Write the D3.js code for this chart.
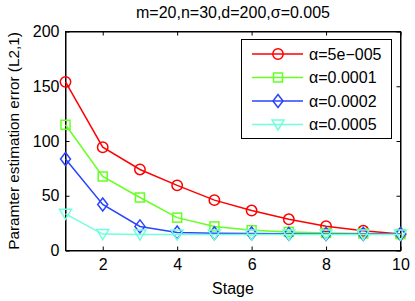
<!DOCTYPE html>
<html><head><meta charset="utf-8">
<script src="https://cdn.jsdelivr.net/npm/d3@7"></script>
<style>body{margin:0;background:#fff}svg{display:block}text{font-family:"Liberation Sans",Arial,sans-serif}</style>
</head><body><svg id="c" width="415" height="301"></svg>
<script>
const stages = [1,2,3,4,5,6,7,8,9,10];
const seriesNames = ["α=5e−005","α=0.0001","α=0.0002","α=0.0005"];
const red = [154,94.3,74,59.5,46,36.5,28.5,22.2,18,15];
const green = [114.8,67.6,48.4,30,22,18.5,17,16,15.5,15];
const blue = [83.5,42,22,16.5,15.8,15.5,15.2,15,15,15];
const cyan = [33.5,15,14.5,14.5,14.5,14.5,14.5,14.5,14.5,14.5];
const xTicks = [2,4,6,8,10];
const yTicks = [0,50,100,150,200];
const colors = ["#ff0000","#66ff22","#2a44ff","#70ffdd"];
const markers = ["circle","square","diamond","triangle"];
const data = [red, green, blue, cyan];
const FS = 16;

const svg = d3.select("#c");
const L=65.5, R=400.5, T=31.5, B=250.5;
const x = d3.scaleLinear().domain([1,10]).range([L,R]);
const y = d3.scaleLinear().domain([0,200]).range([B,T]);

svg.append("rect").attr("x",L).attr("y",T).attr("width",R-L).attr("height",B-T)
  .attr("fill","#fff").attr("stroke","#000").attr("stroke-width",1);

const ax = svg.append("g").attr("transform",`translate(0,${B})`)
  .call(d3.axisBottom(x).tickValues(xTicks).tickSizeInner(-4).tickSizeOuter(0).tickPadding(8));
const ay = svg.append("g").attr("transform",`translate(${L},0)`)
  .call(d3.axisLeft(y).tickValues(yTicks).tickSizeInner(-4).tickSizeOuter(0).tickPadding(6));
const axT = svg.append("g").attr("transform",`translate(0,${T})`)
  .call(d3.axisTop(x).tickValues(xTicks).tickSizeInner(-4).tickSizeOuter(0).tickFormat(""));
const ayR = svg.append("g").attr("transform",`translate(${R},0)`)
  .call(d3.axisRight(y).tickValues(yTicks).tickSizeInner(-4).tickSizeOuter(0).tickFormat(""));
[ax,ay,axT,ayR].forEach(g=>{g.select(".domain").attr("stroke","#000");g.selectAll("text").attr("font-size",FS).attr("fill","#000").style("font-family",'"Liberation Sans",Arial,sans-serif');});

function drawMarker(g, type, cx, cy){
  if(type==="circle") g.append("circle").attr("cx",cx).attr("cy",cy).attr("r",5.2);
  else if(type==="square") g.append("rect").attr("x",cx-4.5).attr("y",cy-4.5).attr("width",9).attr("height",9);
  else if(type==="diamond") g.append("path").attr("d",`M${cx},${cy-6.5}L${cx+5},${cy}L${cx},${cy+6.5}L${cx-5},${cy}Z`);
  else g.append("path").attr("d",`M${cx-6},${cy-4.5}L${cx+6},${cy-4.5}L${cx},${cy+5.5}Z`);
}

const line = d3.line().x((d,i)=>x(stages[i])).y(d=>y(d));
data.forEach((s,k)=>{
  const g = svg.append("g").attr("fill","none").attr("stroke",colors[k]).attr("stroke-width",1.5);
  g.append("path").attr("d",line(s));
  s.forEach((v,i)=>drawMarker(g, markers[k], x(stages[i]), y(v)));
});

const lg = svg.append("g");
lg.append("rect").attr("x",241.5).attr("y",39.5).attr("width",150).attr("height",99)
  .attr("fill","#fff").attr("stroke","#000").attr("stroke-width",1);
const ly = [54,77.5,101,124.5];
seriesNames.forEach((n,k)=>{
  const g = lg.append("g").attr("fill","none").attr("stroke",colors[k]).attr("stroke-width",1.5);
  g.append("line").attr("x1",252).attr("x2",303).attr("y1",ly[k]).attr("y2",ly[k]);
  drawMarker(g, markers[k], 278, ly[k]);
  lg.append("text").attr("x",309).attr("y",ly[k]+5.5).attr("font-size",FS).attr("fill","#000").text(n);
});

svg.append("text").attr("x",233).attr("y",18).attr("text-anchor","middle").attr("font-size",FS).text("m=20,n=30,d=200,σ=0.005");
svg.append("text").attr("x",233).attr("y",294).attr("text-anchor","middle").attr("font-size",FS).text("Stage");
svg.append("text").attr("transform","translate(19,141) rotate(-90)").attr("text-anchor","middle").attr("font-size",15.3).text("Paramter estimation error (L2,1)");
</script></body></html>
